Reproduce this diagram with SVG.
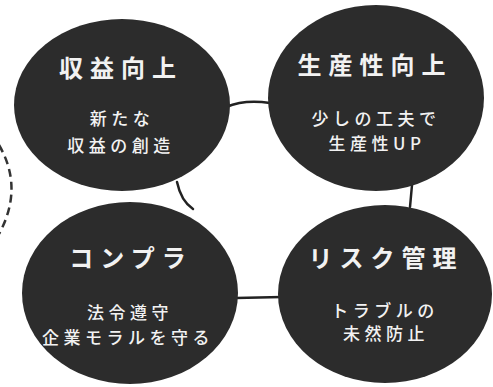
<svg xmlns="http://www.w3.org/2000/svg" width="493" height="387" viewBox="0 0 493 387">
<style>
.node{fill:#2c2c2c;}
.t{font-family:"Noto Sans CJK JP","Noto Sans",sans-serif;fill:#f2f2f2;text-anchor:middle;font-weight:500;}
.h{font-size:24px;letter-spacing:7px;font-weight:700;}
.s{font-size:17px;letter-spacing:4.5px;}
.c{fill:none;stroke:#222;stroke-width:2.5;stroke-linecap:round;}
.d{fill:none;stroke:#333;stroke-width:2.5;stroke-dasharray:8 5;}
</style>
<rect width="493" height="387" fill="#ffffff"/>
<g id="connectors">
<path class="c" d="M226,107 Q245,99 270,103"/>
<path class="c" d="M177,182 Q181,201 193,209"/>
<path class="c" d="M412,185 L410,207"/>
<path class="c" d="M236,298 L282,297"/>
<path class="d" d="M-1,145 Q24,188 -1,234"/>
</g>
<g id="node-revenue">
<ellipse class="node" cx="122" cy="105" rx="108" ry="86"/>
<text class="t h" x="121" y="77">収益向上</text>
<text class="t s" x="122" y="125">新たな</text>
<text class="t s" x="121" y="152">収益の創造</text>
</g>
<g id="node-productivity">
<ellipse class="node" cx="376" cy="98" rx="108" ry="93"/>
<text class="t h" x="375" y="74">生産性向上</text>
<text class="t s" x="376" y="125">少しの工夫で</text>
<text class="t s" x="377" y="150">生産性UP</text>
</g>
<g id="node-compliance">
<ellipse class="node" cx="130" cy="293" rx="108" ry="91"/>
<text class="t h" x="131" y="267">コンプラ</text>
<text class="t s" x="130" y="319">法令遵守</text>
<text class="t s" x="128" y="344">企業モラルを守る</text>
</g>
<g id="node-risk">
<ellipse class="node" cx="385" cy="294" rx="107" ry="89"/>
<text class="t h" x="386" y="267">リスク管理</text>
<text class="t s" x="385" y="317">トラブルの</text>
<text class="t s" x="386" y="340">未然防止</text>
</g>
</svg>
